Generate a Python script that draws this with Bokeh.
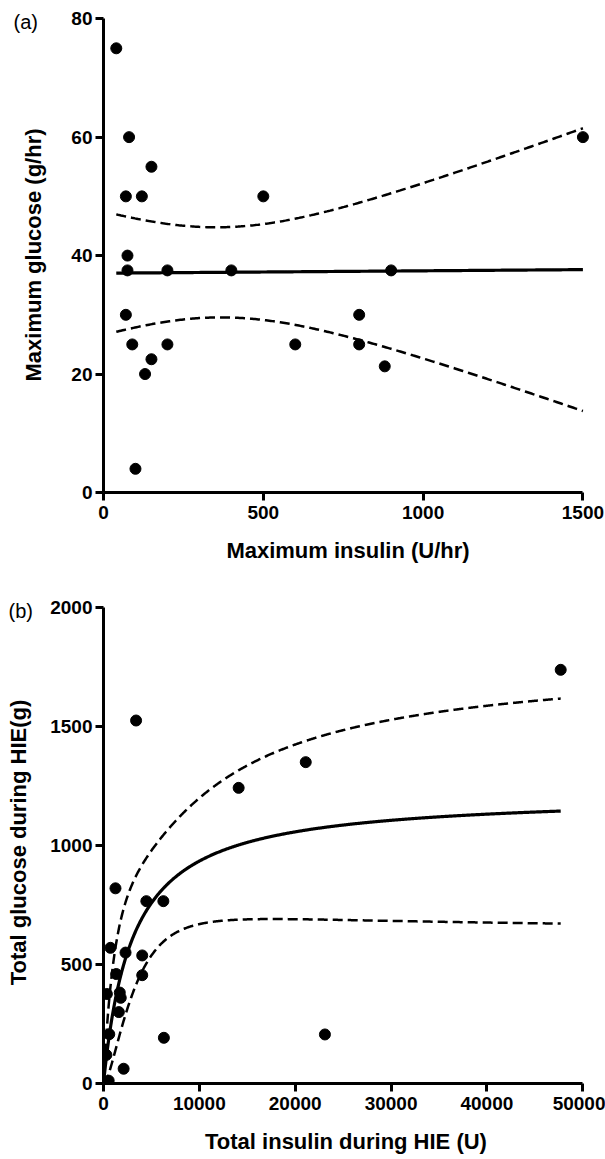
import numpy as np
from bokeh.plotting import figure
from bokeh.layouts import column
from bokeh.models import Range1d, FixedTicker
from bokeh.embed import file_html
from bokeh.resources import INLINE

# ---------------- data: panel (a) ----------------
max_insulin = [40, 80, 150, 70, 120, 75, 75, 200, 70, 90, 200, 150, 130, 100,
               400, 900, 600, 800, 800, 880, 1500, 500]
max_glucose = [75, 60, 55, 50, 50, 40, 37.5, 37.5, 30, 25, 25, 22.5, 20, 4,
               37.5, 37.5, 25, 30, 25, 21.3, 60, 50]
a_xticks = [0, 500, 1000, 1500]
a_yticks = [0, 20, 40, 60, 80]

# ---------------- data: panel (b) ----------------
total_insulin = [1250, 4470, 6245, 725, 2300, 4040, 4040, 1330, 1700, 1800, 350,
                 1600, 600, 6300, 23100, 2100, 540, 300, 3400, 14100, 47700, 21100]
total_glucose = [820, 766, 766, 570, 550, 538, 455, 460, 382, 360, 376,
                 300, 207, 192, 206, 62, 12, 120, 1525, 1242, 1738, 1350]
b_xticks = [0, 10000, 20000, 30000, 40000, 50000]
b_yticks = [0, 500, 1000, 1500, 2000]

FONT = "Liberation Sans"
T95 = 2.086  # Student t (two-sided 95%), df = n - 2 = 20


def linear_band(x, y, xs):
    x = np.asarray(x, float); y = np.asarray(y, float)
    n = len(x)
    slope, icpt = np.polyfit(x, y, 1)
    res = y - (icpt + slope * x)
    s = np.sqrt(np.sum(res ** 2) / (n - 2))
    sxx = np.sum((x - x.mean()) ** 2)
    fit = icpt + slope * xs
    hw = T95 * s * np.sqrt(1.0 / n + (xs - x.mean()) ** 2 / sxx)
    return fit, fit + hw, fit - hw


def hyperbola_band(x, y, xs):
    x = np.asarray(x, float); y = np.asarray(y, float)
    n = len(x)
    Ks = np.logspace(1, 6, 20001)
    G = x[None, :] / (Ks[:, None] + x[None, :])
    V = (G * y).sum(1) / (G * G).sum(1)
    ssr = ((y - V[:, None] * G) ** 2).sum(1)
    i = int(np.argmin(ssr))
    K, Vm = Ks[i], V[i]
    s2 = ssr[i] / (n - 2)
    J = np.column_stack([x / (K + x), -Vm * x / (K + x) ** 2])
    C = s2 * np.linalg.inv(J.T @ J)
    Gs = np.column_stack([xs / (K + xs), -Vm * xs / (K + xs) ** 2])
    fit = Vm * xs / (K + xs)
    hw = T95 * np.sqrt(np.einsum("ij,jk,ik->i", Gs, C, Gs))
    return fit, fit + hw, fit - hw


def style(p, xticks, yticks, xb, yb, ylab_standoff, xlab_standoff,
          tag, tag_offset, tag_standoff):
    p.outline_line_color = None
    p.xgrid.visible = False
    p.ygrid.visible = False
    p.xaxis.ticker = FixedTicker(ticks=xticks)
    p.yaxis.ticker = FixedTicker(ticks=yticks)
    p.xaxis.bounds = xb
    p.yaxis.bounds = yb
    for ax in (p.xaxis, p.yaxis):
        ax.axis_line_width = 3
        ax.axis_line_color = "black"
        ax.major_tick_line_width = 3
        ax.major_tick_line_color = "black"
        ax.major_tick_out = 8
        ax.major_tick_in = 0
        ax.minor_tick_line_color = None
        ax.major_label_text_font = FONT
        ax.major_label_text_font_style = "bold"
        ax.major_label_text_font_size = "19px"
        ax.major_label_text_color = "black"
        ax.major_label_standoff = 3
        ax.axis_label_text_font = FONT
        ax.axis_label_text_font_style = "bold"
        ax.axis_label_text_font_size = "22px"
        ax.axis_label_text_color = "black"
    p.xaxis.major_label_standoff = 5
    p.yaxis.axis_label_standoff = ylab_standoff
    p.xaxis.axis_label_standoff = xlab_standoff
    # panel tag "(a)" / "(b)" at the top-left corner, level with the top tick
    p.title.text = tag
    p.title.align = "left"
    p.title.offset = tag_offset
    p.title.standoff = tag_standoff
    p.title.text_font = FONT
    p.title.text_font_size = "20px"
    p.title.text_font_style = "normal"
    p.title.text_color = "black"


# ---------------- panel (a) ----------------
pa = figure(frame_width=489, frame_height=475, output_backend="svg",
            toolbar_location=None,
            x_range=Range1d(0, 1530), y_range=Range1d(0, 80.2),
            min_border_left=103, min_border_right=13, min_border_top=17,
            min_border_bottom=86,
            x_axis_label="Maximum insulin (U/hr)",
            y_axis_label="Maximum glucose (g/hr)")
style(pa, a_xticks, a_yticks, (0, 1500), (0, 80), 22, 16, "(a)", -90, -30)

xa = np.linspace(min(max_insulin), max(max_insulin), 300)
fa, ua, la = linear_band(max_insulin, max_glucose, xa)
pa.line(xa, ua, line_color="black", line_width=2.5, line_dash="10 5")
pa.line(xa, la, line_color="black", line_width=2.5, line_dash="10 5")
pa.line(xa, fa, line_color="black", line_width=3.2)
pa.scatter(max_insulin, max_glucose, size=11, marker="circle",
           fill_color="black", line_color="black")

# ---------------- panel (b) ----------------
pb = figure(frame_width=485, frame_height=482, output_backend="svg",
            toolbar_location=None,
            x_range=Range1d(0, 50600), y_range=Range1d(0, 2025),
            min_border_left=103, min_border_right=17, min_border_top=23,
            min_border_bottom=72,
            x_axis_label="Total insulin during HIE (U)",
            y_axis_label="Total glucose during HIE(g)")
style(pb, b_xticks, b_yticks, (0, 50000), (0, 2000), 16, 16, "(b)", -95, -40)

xb = np.linspace(0, max(total_insulin), 800)
fb, ub, lb = hyperbola_band(total_insulin, total_glucose, xb)
pb.line(xb, ub, line_color="black", line_width=2.5, line_dash="10 5")
pb.line(xb, lb, line_color="black", line_width=2.5, line_dash="10 5")
pb.line(xb, fb, line_color="black", line_width=3.2)
pb.scatter(total_insulin, total_glucose, size=11, marker="circle",
           fill_color="black", line_color="black")

layout = column(pa, pb, spacing=0)
open("out.html", "w").write(file_html(layout, INLINE))
